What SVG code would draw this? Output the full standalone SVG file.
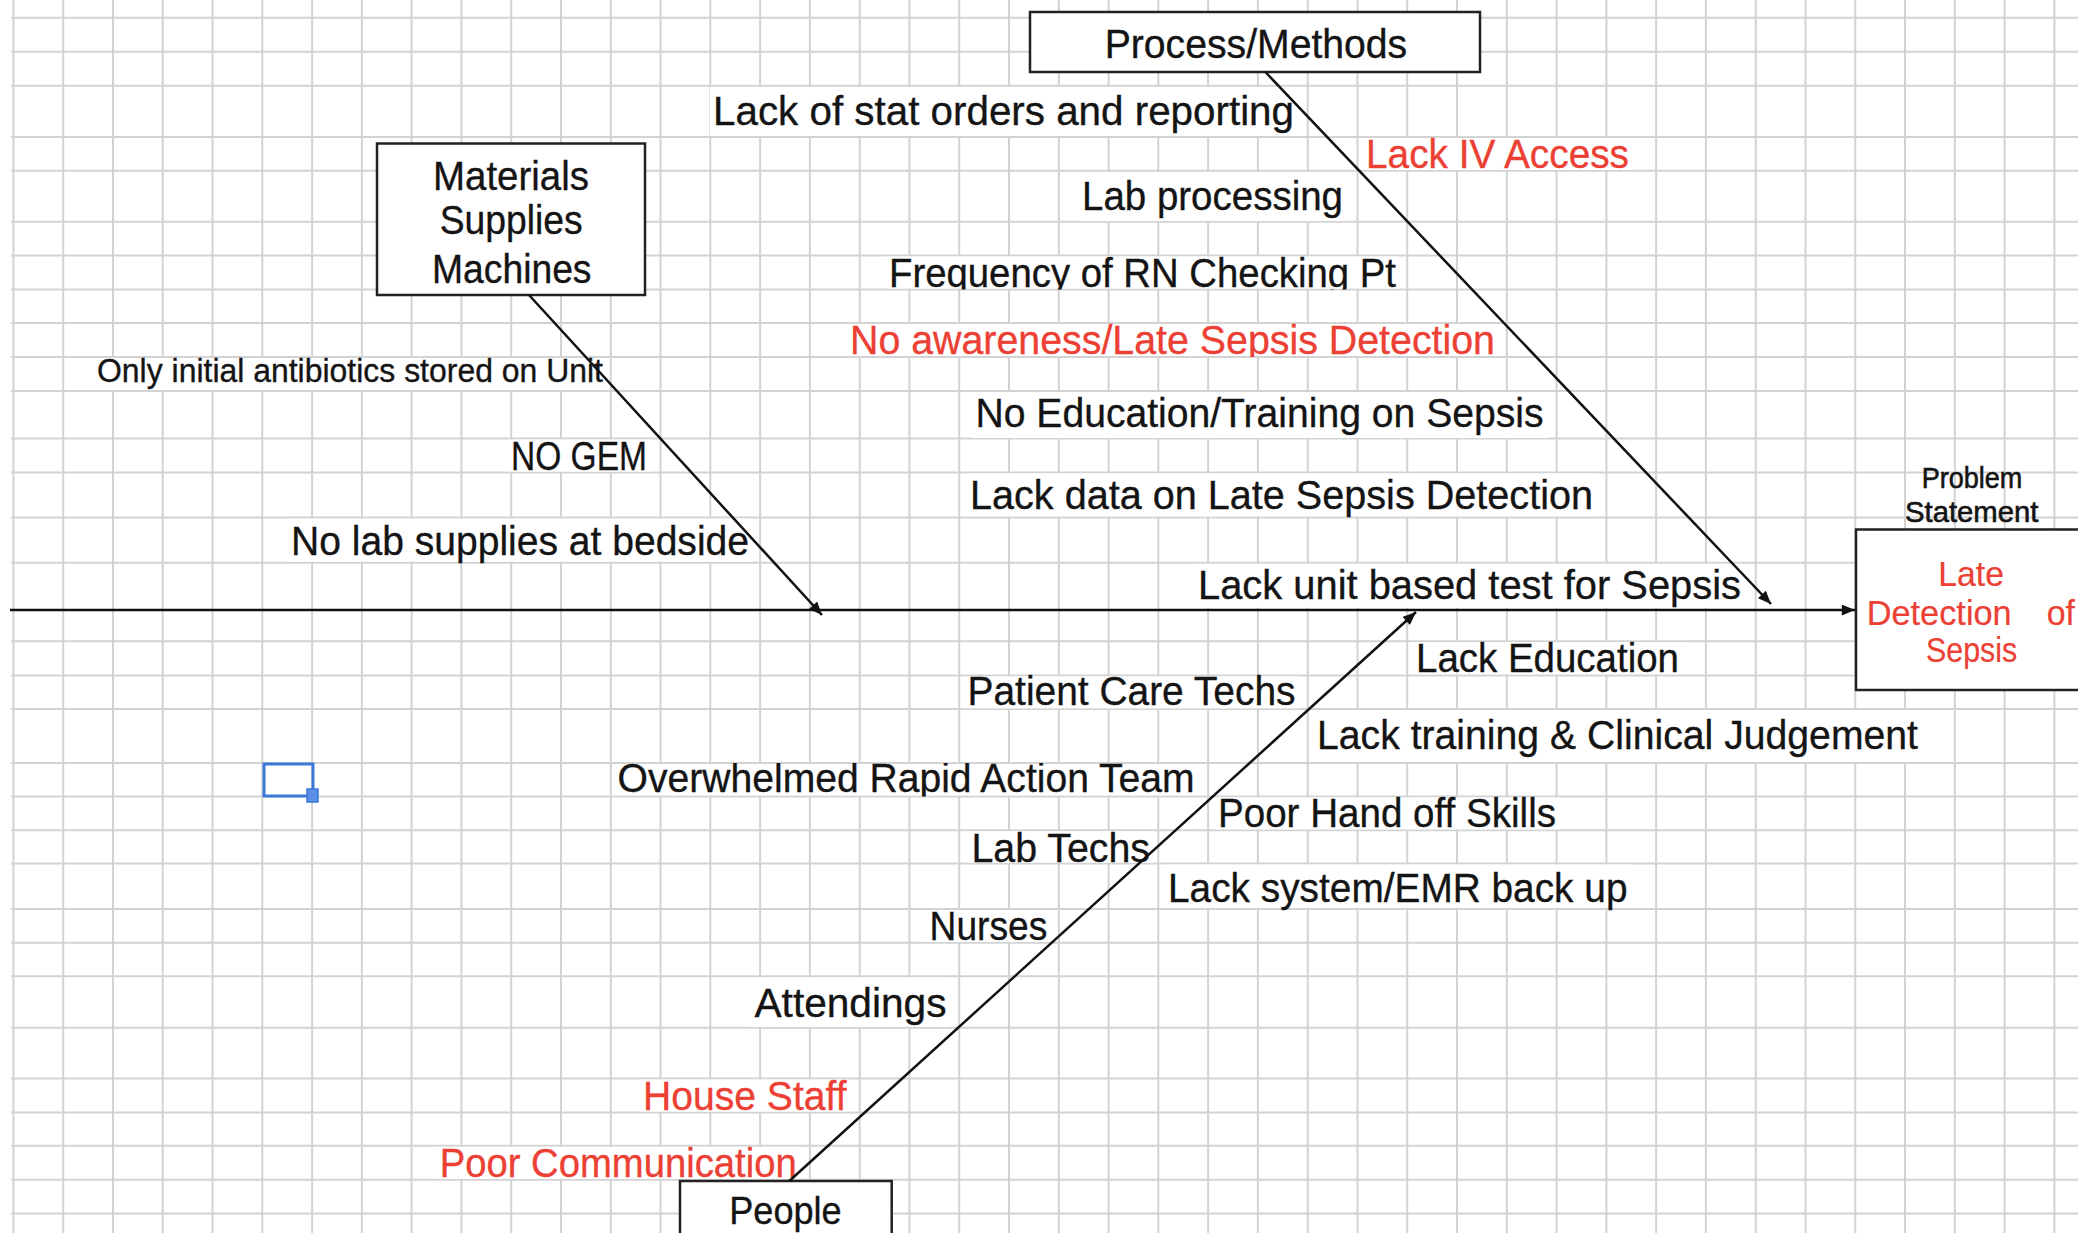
<svg xmlns="http://www.w3.org/2000/svg" width="2078" height="1233" viewBox="0 0 2078 1233">
<style>
.t{font-family:"Liberation Sans",Arial,sans-serif;font-size:41px;fill:#141414;stroke:#141414;stroke-width:0.35}
.red{fill:#ec4034;stroke:#ec4034}
.bg{fill:#ffffff}
.box{fill:#ffffff;stroke:#222;stroke-width:2.5}
.grid{stroke:#d3d3d3;stroke-width:2;fill:none}
.conn{stroke:#111;stroke-width:2.5;fill:none}
</style>
<defs>
<marker id="ah" viewBox="0 0 12 10" refX="12" refY="5" markerWidth="14" markerHeight="11" markerUnits="userSpaceOnUse" orient="auto"><path d="M0,0 L12,5 L0,10 z" fill="#111"/></marker>
<clipPath id="clipFreq"><rect x="880" y="255.4" width="530" height="34.1"/></clipPath>
<clipPath id="clipAware"><rect x="840" y="323" width="670" height="34"/></clipPath>
<clipPath id="clipRat"><rect x="610" y="763" width="600" height="33.4"/></clipPath>
</defs>
<rect width="2078" height="1233" fill="#ffffff"/>
<g id="grid">
<path class="grid" d="M13.4 0V1233M63.2 0V1233M113 0V1233M162.7 0V1233M212.5 0V1233M262.3 0V1233M312.1 0V1233M361.9 0V1233M411.6 0V1233M461.4 0V1233M511.2 0V1233M561 0V1233M610.8 0V1233M660.5 0V1233M710.3 0V1233M760.1 0V1233M809.9 0V1233M859.7 0V1233M909.4 0V1233M959.2 0V1233M1009 0V1233M1058.8 0V1233M1108.6 0V1233M1158.3 0V1233M1208.1 0V1233M1257.9 0V1233M1307.7 0V1233M1357.5 0V1233M1407.2 0V1233M1457 0V1233M1506.8 0V1233M1556.6 0V1233M1606.4 0V1233M1656.1 0V1233M1705.9 0V1233M1755.7 0V1233M1805.5 0V1233M1855.3 0V1233M1905 0V1233M1954.8 0V1233M2004.6 0V1233M2054.4 0V1233"/>
<path class="grid" d="M11 17.8H2078M11 51.8H2078M11 85.7H2078M11 137H2078M11 170.8H2078M11 221.8H2078M11 255.4H2078M11 289.5H2078M11 323H2078M11 357H2078M11 391H2078M11 438.6H2078M11 472.4H2078M11 517.6H2078M11 562.8H2078M11 610H2078M11 641.2H2078M11 675.4H2078M11 709H2078M11 763H2078M11 796.4H2078M11 830.2H2078M11 863.6H2078M11 909H2078M11 942.8H2078M11 976.3H2078M11 1027.8H2078M11 1078.6H2078M11 1112.5H2078M11 1145.8H2078M11 1179.8H2078M11 1213.6H2078"/>
</g>
<g id="labels">
<g id="lbl-stat"><rect class="bg" x="710" y="87" width="588" height="49"/><text class="t" x="713" y="125" textLength="581" lengthAdjust="spacingAndGlyphs">Lack of stat orders and reporting</text></g>
<g id="lbl-iv"><rect class="bg" x="1363" y="138" width="270" height="32"/><text class="t red" x="1366" y="168" textLength="263" lengthAdjust="spacingAndGlyphs">Lack IV Access</text></g>
<g id="lbl-lab"><rect class="bg" x="1079" y="172" width="268" height="49"/><text class="t" x="1082" y="210" textLength="261" lengthAdjust="spacingAndGlyphs">Lab processing</text></g>
<g id="lbl-freq"><rect class="bg" x="886" y="256.5" width="513" height="32"/><text class="t" x="889" y="287" textLength="507" lengthAdjust="spacingAndGlyphs" clip-path="url(#clipFreq)">Frequency of RN Checking Pt</text></g>
<g id="lbl-aware"><rect class="bg" x="847" y="324" width="652" height="32"/><text class="t red" x="850" y="353.5" textLength="645" lengthAdjust="spacingAndGlyphs" clip-path="url(#clipAware)">No awareness/Late Sepsis Detection</text></g>
<g id="lbl-anti"><rect class="bg" x="94" y="358" width="512" height="32"/><text class="t" x="97" y="382" style="font-size:33px" textLength="506" lengthAdjust="spacingAndGlyphs">Only initial antibiotics stored on Unit</text></g>
<g id="lbl-edu"><rect class="bg" x="972" y="392" width="576" height="46"/><text class="t" x="975.5" y="427" textLength="568" lengthAdjust="spacingAndGlyphs">No Education/Training on Sepsis</text></g>
<g id="lbl-gem"><rect class="bg" x="508" y="439.6" width="143" height="32"/><text class="t" x="511" y="470" textLength="136" lengthAdjust="spacingAndGlyphs">NO GEM</text></g>
<g id="lbl-data"><rect class="bg" x="967" y="473.4" width="630" height="43"/><text class="t" x="970" y="509" textLength="623" lengthAdjust="spacingAndGlyphs">Lack data on Late Sepsis Detection</text></g>
<g id="lbl-bedside"><rect class="bg" x="288" y="518.6" width="465" height="43"/><text class="t" x="291" y="555" textLength="458" lengthAdjust="spacingAndGlyphs">No lab supplies at bedside</text></g>
<g id="lbl-unit"><rect class="bg" x="1195" y="563.8" width="550" height="44"/><text class="t" x="1198" y="599" textLength="543" lengthAdjust="spacingAndGlyphs">Lack unit based test for Sepsis</text></g>
<g id="lbl-lackedu"><rect class="bg" x="1413" y="642.2" width="270" height="32"/><text class="t" x="1416" y="672" textLength="263" lengthAdjust="spacingAndGlyphs">Lack Education</text></g>
<g id="lbl-pct"><rect class="bg" x="964" y="676.4" width="336" height="32"/><text class="t" x="967.5" y="705" textLength="328" lengthAdjust="spacingAndGlyphs">Patient Care Techs</text></g>
<g id="lbl-train"><rect class="bg" x="1314" y="710" width="608" height="52"/><text class="t" x="1317" y="749" textLength="601" lengthAdjust="spacingAndGlyphs">Lack training &amp; Clinical Judgement</text></g>
<g id="lbl-rat"><rect class="bg" x="614" y="764" width="584" height="31.4"/><text class="t" x="617.6" y="792" textLength="577" lengthAdjust="spacingAndGlyphs" clip-path="url(#clipRat)">Overwhelmed Rapid Action Team</text></g>
<g id="lbl-hand"><rect class="bg" x="1215" y="797.4" width="345" height="32"/><text class="t" x="1218" y="827" textLength="338" lengthAdjust="spacingAndGlyphs">Poor Hand off Skills</text></g>
<g id="lbl-labtech"><rect class="bg" x="968" y="831.2" width="186" height="31.4"/><text class="t" x="971.5" y="862" textLength="178.5" lengthAdjust="spacingAndGlyphs">Lab Techs</text></g>
<g id="lbl-emr"><rect class="bg" x="1165" y="864.6" width="466" height="43"/><text class="t" x="1168" y="902" textLength="459.5" lengthAdjust="spacingAndGlyphs">Lack system/EMR back up</text></g>
<g id="lbl-nurses"><rect class="bg" x="926" y="910" width="125" height="32"/><text class="t" x="929.6" y="940" textLength="117.7" lengthAdjust="spacingAndGlyphs">Nurses</text></g>
<g id="lbl-attend"><rect class="bg" x="751" y="977.3" width="199" height="49.5"/><text class="t" x="754.5" y="1017" textLength="192" lengthAdjust="spacingAndGlyphs">Attendings</text></g>
<g id="lbl-house"><rect class="bg" x="640" y="1079.6" width="210" height="32"/><text class="t red" x="643" y="1110" textLength="203.5" lengthAdjust="spacingAndGlyphs">House Staff</text></g>
<g id="lbl-comm"><rect class="bg" x="436" y="1146.8" width="364" height="32"/><text class="t red" x="439.7" y="1177" textLength="357" lengthAdjust="spacingAndGlyphs">Poor Communication</text></g>
</g>
<g id="node-process"><rect class="box" x="1030" y="12" width="450" height="60"/><text class="t" x="1104.7" y="58" textLength="302.5" lengthAdjust="spacingAndGlyphs">Process/Methods</text></g>
<g id="node-materials"><rect class="box" x="377" y="143.5" width="268" height="151.5"/><text class="t" x="433" y="190" textLength="156" lengthAdjust="spacingAndGlyphs">Materials</text><text class="t" x="439.7" y="234" textLength="143" lengthAdjust="spacingAndGlyphs">Supplies</text><text class="t" x="432" y="283" textLength="159.5" lengthAdjust="spacingAndGlyphs">Machines</text></g>
<g id="node-people"><rect class="box" x="680" y="1181" width="211.7" height="70"/><text class="t" x="729.3" y="1224" style="font-size:39px" textLength="112.4" lengthAdjust="spacingAndGlyphs">People</text></g>
<g id="node-problem"><text class="t" x="1921.7" y="488" style="font-size:29px;stroke-width:0.6" textLength="100.6" lengthAdjust="spacingAndGlyphs">Problem</text><text class="t" x="1905" y="521.5" style="font-size:29px;stroke-width:0.6" textLength="133.3" lengthAdjust="spacingAndGlyphs">Statement</text><rect class="box" x="1856" y="529.5" width="230" height="160.5"/><text class="t red" x="1938.3" y="586" style="font-size:35px;stroke-width:0.2" textLength="65.7" lengthAdjust="spacingAndGlyphs">Late</text><text class="t red" x="1866.7" y="625" style="font-size:35px;stroke-width:0.2" textLength="145" lengthAdjust="spacingAndGlyphs">Detection</text><text class="t red" x="2046.7" y="625" style="font-size:35px;stroke-width:0.2" textLength="28.3" lengthAdjust="spacingAndGlyphs">of</text><text class="t red" x="1926" y="662" style="font-size:35px;stroke-width:0.2" textLength="91.3" lengthAdjust="spacingAndGlyphs">Sepsis</text></g>
<g id="connectors">
<line class="conn" x1="10" y1="610" x2="1855" y2="610" stroke-width="3.5" marker-end="url(#ah)"/>
<line class="conn" x1="529" y1="295" x2="822" y2="615" marker-end="url(#ah)"/>
<line class="conn" x1="1265.4" y1="72" x2="1771" y2="604" marker-end="url(#ah)"/>
<line class="conn" x1="789.3" y1="1181" x2="1416" y2="612" marker-end="url(#ah)"/>
</g>
<g id="selection"><rect x="264" y="764" width="49" height="32" fill="none" stroke="#3c78d8" stroke-width="3"/><rect x="307" y="789" width="11" height="13" fill="#5b8ee6" stroke="#3c78d8" stroke-width="1.5"/></g>
</svg>
